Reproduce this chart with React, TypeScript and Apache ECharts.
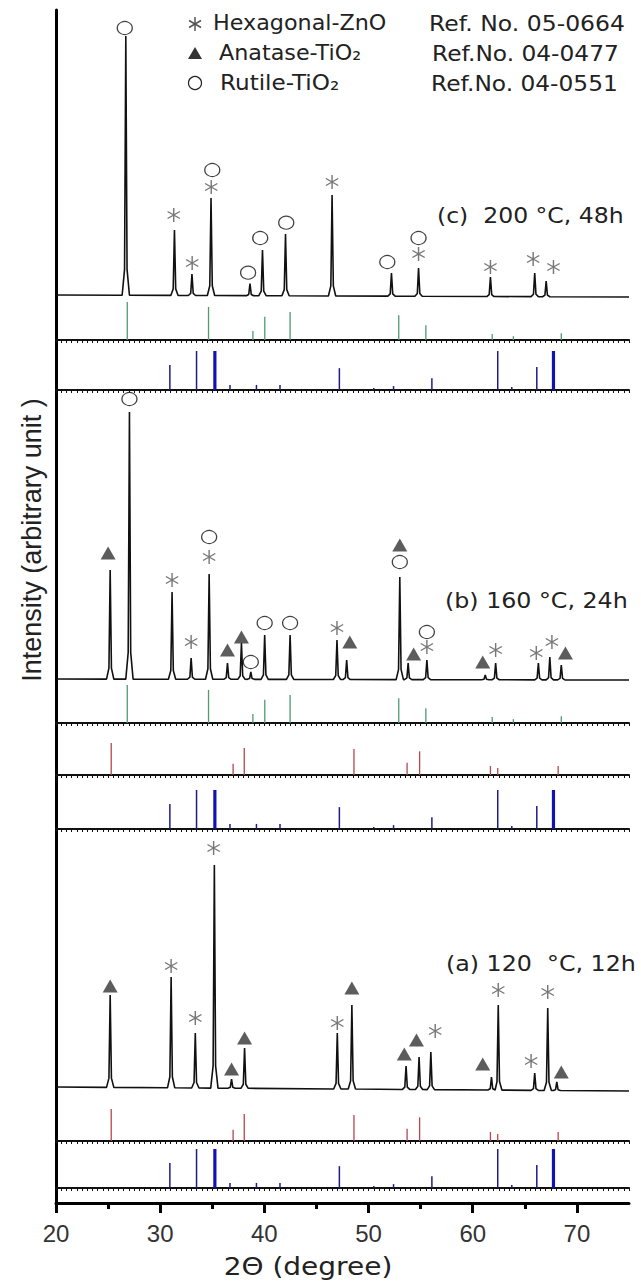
import React, { useEffect, useRef } from "react";
import * as echarts from "echarts";

// ---------- data ----------
const X_MIN = 20;
const X_MAX = 75;
const xMajorTicks = [20, 30, 40, 50, 60, 70];
const xMinorTicks = [25, 35, 45, 55, 65];

// Measured patterns: [2θ (deg), intensity (arb. unit)]
const baselineC = [[20.1, 100], [75, 80]];
const peaksC = [
  [26.7, 2690], [31.37, 750], [33.05, 310], [34.88, 1070], [38.62, 215], [39.82, 550],
  [42.03, 710], [46.5, 1100], [52.2, 320], [54.8, 370], [61.7, 280], [65.95, 320], [67.05, 240],
];
const baselineB = [[20.1, 110], [75, 100]];
const peaksB = [
  [25.2, 1200], [27.05, 2780], [31.14, 980], [32.97, 320], [34.7, 1160], [36.46, 270],
  [37.8, 470], [38.7, 180], [40.03, 550], [42.47, 550], [46.97, 500], [47.9, 300],
  [53.0, 1130], [53.8, 270], [55.6, 300], [61.2, 150], [62.2, 270], [66.3, 270],
  [67.4, 330], [68.5, 250],
];
const baselineA = [[20.1, 110], [75, 70]];
const peaksA = [
  [25.2, 1030], [31.05, 1210], [33.37, 650], [35.2, 2330], [36.85, 190], [38.1, 500],
  [47.0, 650], [48.4, 930], [53.6, 320], [54.85, 410], [55.98, 460], [61.8, 210],
  [62.45, 930], [65.95, 250], [67.2, 900], [68.07, 160],
];

// Phase marks placed above the peaks: [2θ, intensity]
const zincMarksC = [[31.3, 900], [33.07, 420], [34.9, 1180], [46.5, 1230], [54.8, 510], [61.7, 380], [65.8, 460], [67.75, 380]];
const rutileMarksC = [[26.6, 2770], [35.0, 1350], [38.44, 323], [39.6, 670], [42.1, 823], [51.8, 430], [54.8, 670]];
const zincMarksB = [[31.14, 1100], [32.97, 480], [34.7, 1330], [46.97, 620], [55.6, 430], [62.2, 400], [66.1, 370], [67.6, 480]];
const anataseMarksB = [[25.0, 1370], [36.46, 400], [37.8, 530], [48.2, 480], [53.0, 1450], [54.33, 360], [60.96, 280], [68.9, 370]];
const rutileMarksB = [[27.05, 2910], [34.7, 1530], [38.7, 280], [40.03, 670], [42.47, 670], [53.0, 1280], [55.6, 580]];
const zincMarksA = [[31.05, 1320], [33.37, 800], [35.13, 2500], [47.0, 750], [56.4, 670], [62.45, 1080], [65.6, 370], [67.2, 1060]];
const anataseMarksA = [[25.2, 1120], [36.85, 290], [38.1, 600], [48.4, 1100], [53.43, 440], [54.6, 580], [60.96, 340], [68.5, 260]];

// Reference stick patterns: [2θ, relative intensity]
const rutileRef = [[26.84, 100], [34.64, 87], [38.9, 24], [40.04, 61], [42.47, 74], [52.9, 65], [55.5, 39], [61.87, 16], [63.9, 10], [68.5, 18]];
const anataseRef = [[25.3, 100], [37.0, 35], [38.07, 84], [48.6, 81], [53.7, 38], [54.9, 74], [61.7, 28], [62.4, 22], [68.2, 28]];
const zincOxideRef = [[30.93, 64], [33.49, 100], [36.7, 13], [39.24, 13], [41.5, 13], [47.2, 56], [50.5, 5], [52.4, 10], [56.08, 30], [62.4, 100], [63.75, 8], [66.15, 59]];
const zincOxideRefDoublets = [[35.25, 100], [67.75, 100]];

const legendNames = ["Hexagonal-ZnO", "Anatase-TiO\u2082", "Rutile-TiO\u2082"];
const legendRefs = ["Ref. No. 05-0664", "Ref.No. 04-0477", "Ref.No. 04-0551"];
const sampleLabels = ["(c)  200 \u00B0C, 48h", "(b) 160 \u00B0C, 24h", "(a) 120  \u00B0C, 12h"];
const xTitle = "2\u0398 (degree)";
const yTitle = "Intensity (arbitrary unit )";

// ---------- styling / layout ----------
const LEFT = 56;
const RIGHT = 12;
const ASTERISK =
  "path://M-0.1 -1 L0.1 -1 L0.1 1 L-0.1 1 Z M-0.916 -0.413 L-0.816 -0.587 L0.916 0.413 L0.816 0.587 Z M0.816 -0.587 L0.916 -0.413 L-0.816 0.587 L-0.916 0.413 Z";
const GREEN = "#4f9a72";
const RED = "#b5474a";
const BLUE = "#1c1c8c";
const BLUE_THICK = "#1212b4";

function buildTrace(peaks: number[][], base: number[][]) {
  const [x0, y0] = base[0];
  const [x1, y1] = base[base.length - 1];
  const b = (x: number) => y0 + ((y1 - y0) * (x - x0)) / (x1 - x0);
  const pts: number[][] = [[x0, y0]];
  for (const [x, top] of peaks) {
    const f = b(x);
    pts.push([x - 0.35, f], [x - 0.12, f + 0.1 * (top - f)], [x, top], [x + 0.12, f + 0.1 * (top - f)], [x + 0.35, f]);
  }
  pts.push([x1, y1]);
  return pts;
}

export default function App() {
  const ref = useRef<HTMLDivElement>(null);
  useEffect(() => {
    if (!ref.current) return;
    const chart = echarts.init(ref.current, undefined, { renderer: "svg" });

    const traceGrids = [
      { top: 25, height: 280, max: 2800 },
      { top: 390, height: 300, max: 3000 },
      { top: 840, height: 258, max: 2580 },
    ];
    const stickGrids = [
      { top: 302, height: 38, kind: "rutile" },
      { top: 351, height: 39, kind: "zno" },
      { top: 685, height: 38, kind: "rutile" },
      { top: 743, height: 32, kind: "anatase" },
      { top: 790, height: 39, kind: "zno" },
      { top: 1109, height: 32, kind: "anatase" },
      { top: 1149, height: 39, kind: "zno" },
    ];

    const grids: any[] = [{ left: LEFT, right: RIGHT, top: 10, height: 1193 }];
    const xAxes: any[] = [
      {
        type: "value", gridIndex: 0, min: X_MIN, max: X_MAX, interval: 5,
        axisLine: { show: true, lineStyle: { color: "#000", width: 3 } },
        axisTick: { show: true, length: 10, customValues: xMajorTicks, lineStyle: { color: "#000", width: 3 } },
        axisLabel: { show: true, customValues: xMajorTicks, fontSize: 24, color: "#333", fontFamily: "Liberation Sans", margin: 18 },
        splitLine: { show: false },
      },
      {
        type: "value", gridIndex: 0, position: "bottom", min: X_MIN, max: X_MAX, interval: 5,
        axisLine: { show: false },
        axisTick: { show: true, length: 6, customValues: xMinorTicks, lineStyle: { color: "#000", width: 3 } },
        axisLabel: { show: false },
        splitLine: { show: false },
      },
    ];
    const yAxes: any[] = [
      {
        type: "value", gridIndex: 0, min: 0, max: 1,
        axisLine: { show: true, onZero: false, lineStyle: { color: "#000", width: 3 } },
        axisTick: { show: false }, axisLabel: { show: false }, splitLine: { show: false },
      },
    ];
    traceGrids.forEach((g) => {
      const i = grids.length;
      grids.push({ left: LEFT, right: RIGHT, top: g.top, height: g.height });
      xAxes.push({ type: "value", gridIndex: i, min: X_MIN, max: X_MAX, show: false });
      yAxes.push({ type: "value", gridIndex: i, min: 0, max: g.max, show: false });
    });
    stickGrids.forEach((g) => {
      const i = grids.length;
      grids.push({ left: LEFT, right: RIGHT, top: g.top, height: g.height });
      xAxes.push({
        type: "value", gridIndex: i, min: X_MIN, max: X_MAX, interval: 5,
        axisLine: { show: true, onZero: false, lineStyle: { color: "#111", width: 2 } },
        axisTick: { show: true, length: 3, lineStyle: { color: "#111", width: 1 } },
        minorTick: { show: true, splitNumber: 10, length: 3, lineStyle: { color: "#111", width: 1 } },
        axisLabel: { show: false }, splitLine: { show: false }, minorSplitLine: { show: false },
      });
      yAxes.push({ type: "value", gridIndex: i, min: 0, max: 100, show: false });
    });
    // x axis index of grid k (k>=1) is k+1 because grid 0 has two x axes
    const xi = (gridIdx: number) => gridIdx + 1;

    const series: any[] = [];
    const traces = [
      [peaksC, baselineC],
      [peaksB, baselineB],
      [peaksA, baselineA],
    ];
    traces.forEach(([p, b], k) => {
      series.push({
        type: "line", xAxisIndex: xi(k + 1), yAxisIndex: k + 1, data: buildTrace(p, b),
        showSymbol: false, symbol: "none", lineStyle: { color: "#111", width: 1.6 }, z: 3, silent: true,
      });
    });

    const markSeries = (data: number[][], g: number, kind: string) => {
      const base: any = { type: "scatter", xAxisIndex: xi(g), yAxisIndex: g, data, z: 5, silent: true };
      if (kind === "zno") return { ...base, symbol: ASTERISK, symbolSize: [13, 14], itemStyle: { color: "#555" } };
      if (kind === "anatase") return { ...base, symbol: "triangle", symbolSize: [15, 13], itemStyle: { color: "#333" } };
      return { ...base, symbol: "circle", symbolSize: [15, 13], itemStyle: { color: "#fff", borderColor: "#111", borderWidth: 1.2 } };
    };
    series.push(markSeries(zincMarksC, 1, "zno"), markSeries(rutileMarksC, 1, "rutile"));
    series.push(markSeries(zincMarksB, 2, "zno"), markSeries(anataseMarksB, 2, "anatase"), markSeries(rutileMarksB, 2, "rutile"));
    series.push(markSeries(zincMarksA, 3, "zno"), markSeries(anataseMarksA, 3, "anatase"));

    const stickSeries = (data: number[][], g: number, color: string, width: number) => ({
      type: "custom", xAxisIndex: xi(g), yAxisIndex: g, data, encode: { x: 0, y: 1 }, silent: true, z: 4,
      renderItem: (_p: any, api: any) => {
        const x = api.value(0);
        const y = api.value(1);
        const a = api.coord([x, 0]);
        const t = api.coord([x, y]);
        return { type: "line", shape: { x1: a[0], y1: a[1], x2: t[0], y2: t[1] }, style: { stroke: color, lineWidth: width } };
      },
    });
    stickGrids.forEach((g, j) => {
      const gi = 4 + j;
      if (g.kind === "rutile") series.push(stickSeries(rutileRef, gi, GREEN, 1.3));
      if (g.kind === "anatase") series.push(stickSeries(anataseRef, gi, RED, 1.3));
      if (g.kind === "zno") {
        series.push(stickSeries(zincOxideRef, gi, BLUE, 1.5));
        series.push(stickSeries(zincOxideRefDoublets, gi, BLUE_THICK, 3.2));
      }
    });

    const legendFont = '21px "DejaVu Sans"';
    const labelFont = '22px "DejaVu Sans"';
    const txt = (text: string, x: number, y: number, font: string, sx = 1, align = "left") => ({
      type: "text", x, y, scaleX: sx, silent: true,
      style: { text, font, fill: "#222", textAlign: align, textVerticalAlign: "middle", align, verticalAlign: "middle" },
    });
    const legendY = [23, 53, 83];
    const graphic: any[] = [
      txt(legendNames[0], 213, legendY[0], legendFont, 1.06),
      txt(legendNames[1], 219, legendY[1], legendFont, 1.06),
      txt(legendNames[2], 220, legendY[2], legendFont, 1.1),
      txt(legendRefs[0], 429, legendY[0], legendFont, 1.12),
      txt(legendRefs[1], 432, legendY[1], legendFont, 1.11),
      txt(legendRefs[2], 431, legendY[2], legendFont, 1.11),
      txt(sampleLabels[0], 437, 215, labelFont, 1.07),
      txt(sampleLabels[1], 445, 600, labelFont, 1.08),
      txt(sampleLabels[2], 446, 963, labelFont, 1.08),
      txt(xTitle, 308, 1266, '25px "DejaVu Sans"', 1.12, "center"),
      {
        type: "text", x: 32, y: 540, rotation: Math.PI / 2, silent: true,
        style: { text: yTitle, font: '27px "Liberation Sans"', fill: "#222", textAlign: "center", textVerticalAlign: "middle", align: "center", verticalAlign: "middle" },
      },
      // legend symbols
      { type: "line", shape: { x1: 195, y1: 17, x2: 195, y2: 31 }, style: { stroke: "#555", lineWidth: 1.5 } },
      { type: "line", shape: { x1: 189, y1: 20.5, x2: 201, y2: 27.5 }, style: { stroke: "#555", lineWidth: 1.5 } },
      { type: "line", shape: { x1: 189, y1: 27.5, x2: 201, y2: 20.5 }, style: { stroke: "#555", lineWidth: 1.5 } },
      { type: "polygon", shape: { points: [[195, 47], [202, 59], [188, 59]] }, style: { fill: "#333" } },
      { type: "circle", shape: { cx: 195, cy: 83, r: 6.5 }, style: { fill: "#fff", stroke: "#222", lineWidth: 1.2 } },
    ];

    chart.setOption({
      animation: false,
      backgroundColor: "#fff",
      grid: grids,
      xAxis: xAxes,
      yAxis: yAxes,
      series,
      graphic,
    });
    return () => chart.dispose();
  }, []);

  return <div ref={ref} style={{ position: "fixed", left: 0, top: 0, width: 641, height: 1285 }} />;
}
